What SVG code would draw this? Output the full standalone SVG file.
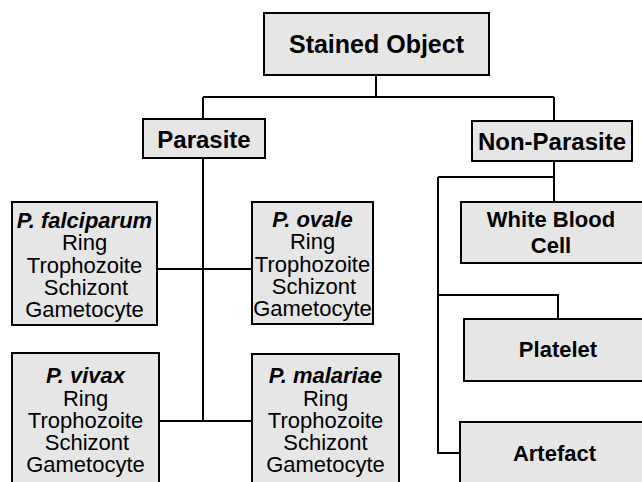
<svg xmlns="http://www.w3.org/2000/svg" width="642" height="482" viewBox="0 0 642 482">
<style>
.box{fill:#e6e6e6;stroke:#000;stroke-width:2}
.ln{fill:none;stroke:#000;stroke-width:2}
text{font-family:"Liberation Sans",Arial,sans-serif;fill:#000;text-anchor:middle}
.h{font-weight:bold}
.sp{font-weight:bold;font-style:italic;font-size:22px}
.r{font-size:22px}
</style>
<rect width="642" height="482" fill="#fff"/>
<g id="connectors">
<path class="ln" d="M376,75V97M203,97H554M203,97V119M554,97V121"/>
<path class="ln" d="M203,158V421M157,269H252M159,421H252"/>
<path class="ln" d="M554,161V202M438,177H554M438,177V453H460M438,295H558V319"/>
</g>
<g id="stained-object">
<rect class="box" x="264" y="13" width="225" height="62"/>
<text class="h" x="376.5" y="53" font-size="25">Stained Object</text>
</g>
<g id="parasite">
<rect class="box" x="143" y="119" width="122" height="39"/>
<text class="h" x="204" y="148" font-size="24">Parasite</text>
</g>
<g id="non-parasite">
<rect class="box" x="472" y="121" width="160" height="40"/>
<text class="h" x="552" y="150" font-size="24">Non-Parasite</text>
</g>
<g id="p-falciparum">
<rect class="box" x="12" y="202" width="145" height="123"/>
<text class="sp" x="84.5" y="228">P. falciparum</text>
<text class="r" x="84.5" y="250">Ring</text>
<text class="r" x="84.5" y="273">Trophozoite</text>
<text class="r" x="86" y="295">Schizont</text>
<text class="r" x="84.5" y="317">Gametocyte</text>
</g>
<g id="p-ovale">
<rect class="box" x="252" y="202" width="121" height="122"/>
<text class="sp" x="312.5" y="227">P. ovale</text>
<text class="r" x="312.5" y="249">Ring</text>
<text class="r" x="312.5" y="272">Trophozoite</text>
<text class="r" x="314" y="294">Schizont</text>
<text class="r" x="312.5" y="316">Gametocyte</text>
</g>
<g id="p-vivax">
<rect class="box" x="12" y="353" width="147" height="140"/>
<text class="sp" x="85.5" y="383">P. vivax</text>
<text class="r" x="85.5" y="406">Ring</text>
<text class="r" x="85.5" y="428">Trophozoite</text>
<text class="r" x="87" y="450">Schizont</text>
<text class="r" x="85.5" y="472">Gametocyte</text>
</g>
<g id="p-malariae">
<rect class="box" x="252" y="354" width="147" height="140"/>
<text class="sp" x="325.5" y="383">P. malariae</text>
<text class="r" x="325.5" y="406">Ring</text>
<text class="r" x="325.5" y="428">Trophozoite</text>
<text class="r" x="325.5" y="450">Schizont</text>
<text class="r" x="325.5" y="472">Gametocyte</text>
</g>
<g id="white-blood-cell">
<rect class="box" x="461" y="202" width="190" height="61"/>
<text class="h" x="551" y="227" font-size="22">White Blood</text>
<text class="h" x="551" y="253" font-size="22">Cell</text>
</g>
<g id="platelet">
<rect class="box" x="464" y="319" width="190" height="62"/>
<text class="h" x="558" y="357" font-size="22">Platelet</text>
</g>
<g id="artefact">
<rect class="box" x="460" y="422" width="190" height="80"/>
<text class="h" x="554.5" y="461" font-size="22">Artefact</text>
</g>
</svg>
